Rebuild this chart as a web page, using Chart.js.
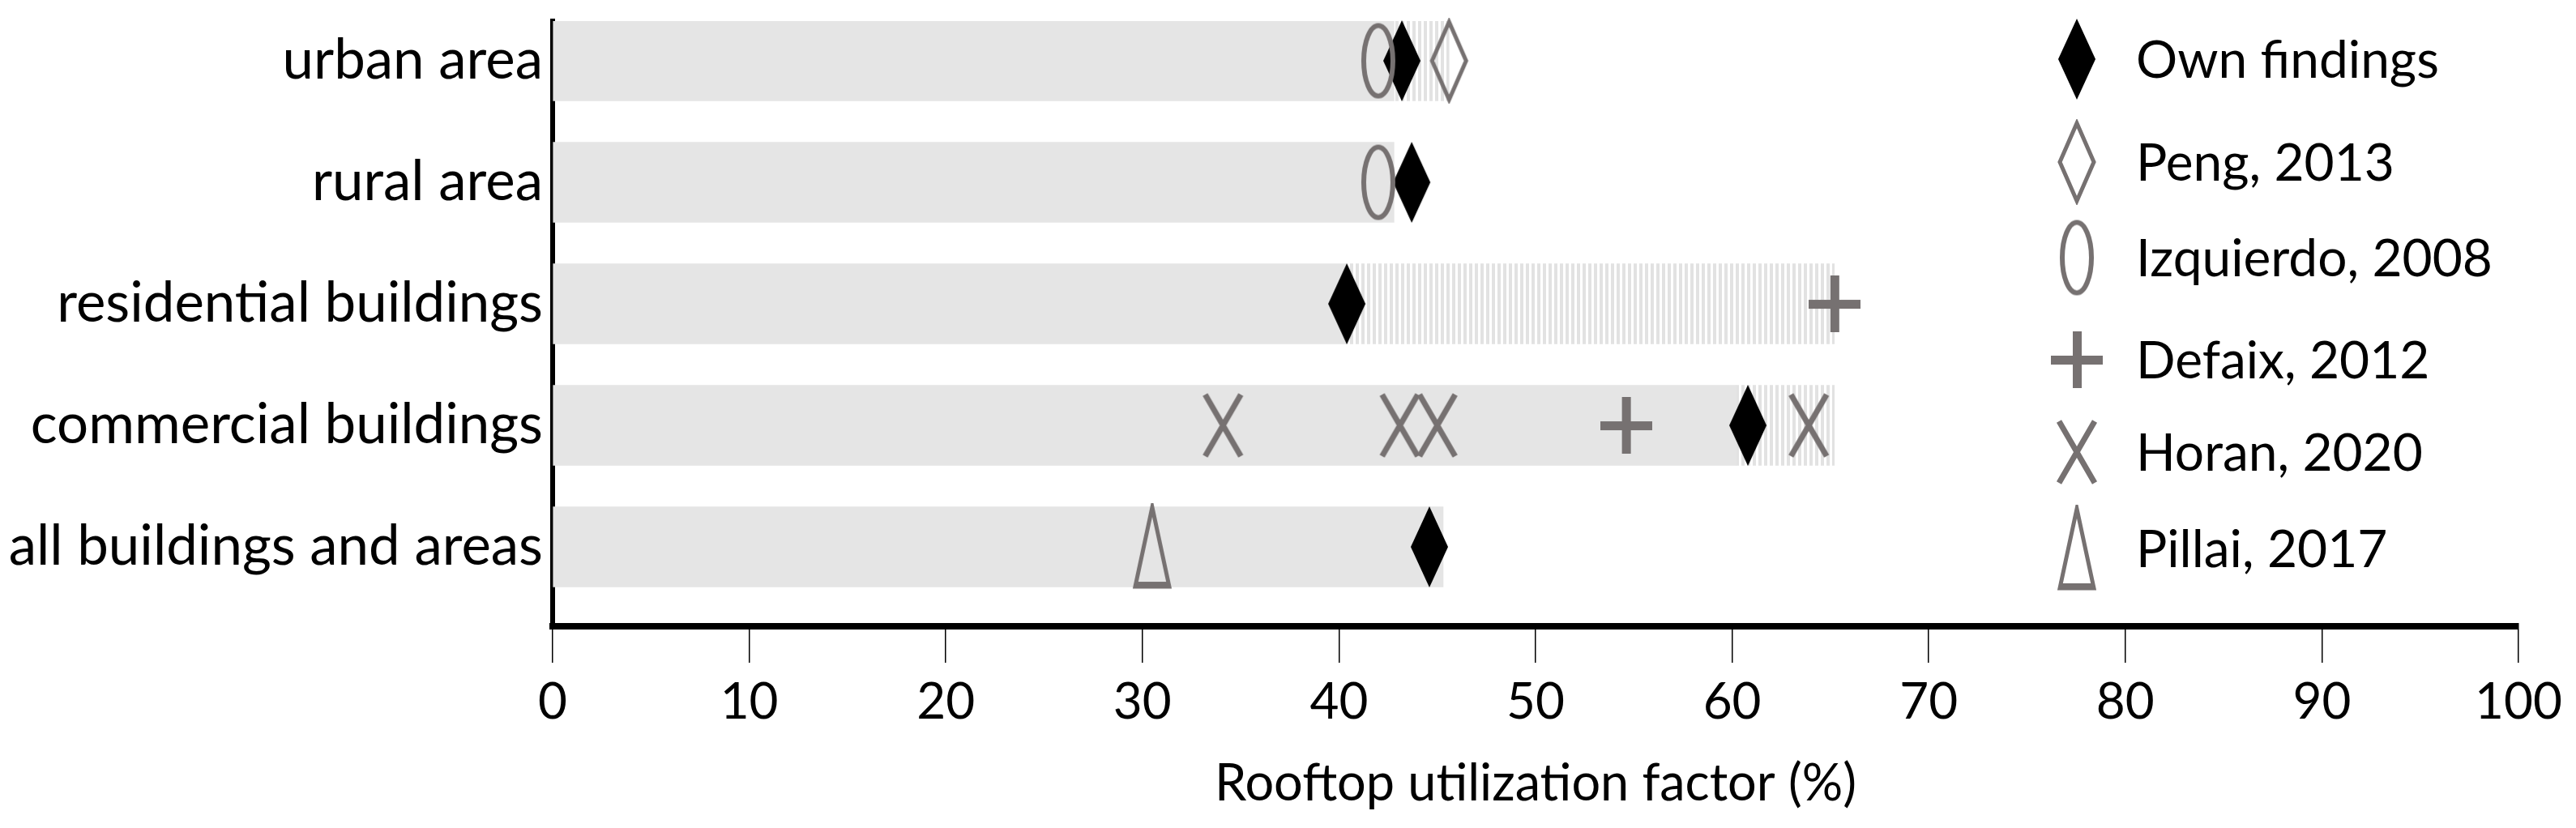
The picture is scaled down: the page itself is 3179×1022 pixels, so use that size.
<!DOCTYPE html>
<html>
<head>
<meta charset="utf-8">
<script src="https://cdn.jsdelivr.net/npm/chart.js@4"></script>
<style>
  html, body { margin: 0; padding: 0; background: #fff; }
  #wrap { width: 3179px; height: 1022px; }
</style>
</head>
<body>
<div id="wrap"><canvas id="rufChart"></canvas></div>
<script>
// categories (top to bottom)
var categories = ['urban area', 'rural area', 'residential buildings', 'commercial buildings', 'all buildings and areas'];

// grey bar up to the own estimate, hatched part up to the highest literature value
var barValues = [42.8, 42.8, 40.4, 60.2, 45.3];
var rangeRows = [0, 2, 3];
var rangeFrom = [42.8, 40.4, 60.2];
var rangeTo = [45.6, 65.2, 65.2];

// literature / own values: row index + value
var ownRows = [0, 1, 2, 3, 4];
var ownValues = [43.2, 43.7, 40.4, 60.8, 44.6];
var pengRows = [0];
var pengValues = [45.6];
var izqRows = [0, 1];
var izqValues = [42.0, 42.0];
var defaixRows = [2, 3];
var defaixValues = [65.2, 54.6];
var horanRows = [3, 3, 3, 3];
var horanValues = [34.1, 43.1, 45.0, 63.9];
var pillaiRows = [4];
var pillaiValues = [30.5];

var xTicks = [0, 10, 20, 30, 40, 50, 60, 70, 80, 90, 100];

var FONT = 'Lato, "Open Sans", sans-serif';
var GREY = '#767171';

function pts(rows, vals) {
  return vals.map(function (v, i) { return { x: v, y: rows[i] }; });
}

function marker(kind) {
  var c = document.createElement('canvas');
  var w, h;
  var sizes = {
    own: [48, 102], peng: [50, 106], izq: [46, 97],
    defaix: [64, 70], horan: [54, 80], pillai: [54, 108]
  };
  w = sizes[kind][0]; h = sizes[kind][1];
  c.width = w; c.height = h;
  var g = c.getContext('2d');
  var cx = w / 2, cy = h / 2;
  g.strokeStyle = GREY;
  g.fillStyle = GREY;
  if (kind === 'own') {
    g.fillStyle = '#000';
    g.beginPath();
    g.moveTo(cx, 1); g.lineTo(w - 1, cy); g.lineTo(cx, h - 1); g.lineTo(1, cy);
    g.closePath(); g.fill();
  } else if (kind === 'peng') {
    g.lineWidth = 5;
    g.beginPath();
    g.moveTo(cx, 5); g.lineTo(w - 4, cy); g.lineTo(cx, h - 5); g.lineTo(4, cy);
    g.closePath(); g.stroke();
  } else if (kind === 'izq') {
    g.lineWidth = 6;
    g.beginPath();
    g.ellipse(cx, cy, w / 2 - 5, h / 2 - 5, 0, 0, Math.PI * 2);
    g.stroke();
  } else if (kind === 'defaix') {
    g.fillRect(0, cy - 5, w, 11);
    g.fillRect(cx - 5, 0, 11, h);
  } else if (kind === 'horan') {
    g.lineWidth = 7;
    g.beginPath();
    g.moveTo(5, 2); g.lineTo(w - 5, h - 2);
    g.moveTo(w - 5, 2); g.lineTo(5, h - 2);
    g.stroke();
  } else if (kind === 'pillai') {
    g.lineWidth = 5;
    g.lineJoin = 'miter';
    g.beginPath();
    g.moveTo(cx, 5); g.lineTo(w - 6, h - 5); g.lineTo(6, h - 5);
    g.closePath(); g.stroke();
    g.fillRect(6, h - 11, w - 12, 8);
  }
  return c;
}

function hatch() {
  var p = document.createElement('canvas');
  p.width = 7; p.height = 4;
  var g = p.getContext('2d');
  g.fillStyle = '#ffffff';
  g.fillRect(0, 0, 7, 4);
  g.fillStyle = '#e2e2e2';
  g.fillRect(0, 0, 4, 4);
  return g.createPattern(p, 'repeat');
}

var markerSets = [
  { label: 'Own findings', kind: 'own', data: pts(ownRows, ownValues) },
  { label: 'Peng, 2013', kind: 'peng', data: pts(pengRows, pengValues) },
  { label: 'Izquierdo, 2008', kind: 'izq', data: pts(izqRows, izqValues) },
  { label: 'Defaix, 2012', kind: 'defaix', data: pts(defaixRows, defaixValues) },
  { label: 'Horan, 2020', kind: 'horan', data: pts(horanRows, horanValues) },
  { label: 'Pillai, 2017', kind: 'pillai', data: pts(pillaiRows, pillaiValues) }
];

var datasets = [];
markerSets.slice().reverse().forEach(function (m) {
  datasets.push({
    type: 'scatter',
    label: m.label,
    data: m.data,
    pointStyle: marker(m.kind),
    pointRadius: 20,
    clip: false,
    order: 1
  });
});

datasets.push({
  type: 'bar',
  label: 'range',
  data: rangeRows.map(function (r, i) { return { x: [rangeFrom[i], rangeTo[i]], y: r }; }),
  backgroundColor: hatch(),
  barThickness: 99,
  grouped: false,
  order: 3
});
datasets.push({
  type: 'bar',
  label: 'base',
  data: barValues.map(function (v, i) { return { x: v, y: i }; }),
  backgroundColor: '#e5e5e5',
  barThickness: 99,
  grouped: false,
  order: 2
});

// legend drawn by hand on the right, over the empty part of the plot
var legendY = [73, 200, 318, 444, 558, 677];
var sideLegend = {
  id: 'sideLegend',
  afterDraw: function (chart) {
    var ctx = chart.ctx;
    ctx.save();
    ctx.font = '64px ' + FONT;
    ctx.fillStyle = '#000';
    ctx.textBaseline = 'middle';
    ctx.textAlign = 'left';
    markerSets.forEach(function (m, i) {
      var y = legendY[i];
      var img = marker(m.kind);
      ctx.drawImage(img, 2563 - img.width / 2, y - img.height / 2);
      ctx.fillText(m.label, 2636, y + 2);
    });
    ctx.restore();
  }
};

Chart.defaults.color = '#000';
Chart.defaults.font.family = FONT;

new Chart(document.getElementById('rufChart'), {
  type: 'bar',
  data: { datasets: datasets },
  plugins: [sideLegend],
  options: {
    indexAxis: 'y',
    responsive: true,
    maintainAspectRatio: false,
    animation: false,
    layout: { padding: { top: 26, right: 71, left: 0, bottom: 0 } },
    plugins: {
      legend: { display: false },
      tooltip: { enabled: false }
    },
    scales: {
      x: {
        type: 'linear',
        min: 0,
        max: 100,
        afterBuildTicks: function (scale) {
          scale.ticks = xTicks.map(function (v) { return { value: v }; });
        },
        grid: {
          display: true,
          drawOnChartArea: false,
          drawTicks: true,
          tickLength: 45,
          color: '#000',
          lineWidth: 1.5
        },
        border: { display: true, color: '#000', width: 8 },
        ticks: { font: { size: 62 }, padding: 12, maxRotation: 0 },
        title: {
          display: true,
          text: 'Rooftop utilization factor (%)',
          font: { size: 63 },
          padding: { top: 0, bottom: 17 }
        },
        afterFit: function (scale) { scale.height = 249; }
      },
      y: {
        type: 'linear',
        reverse: true,
        offset: false,
        min: -0.3267,
        max: 4.653,
        grid: { display: false, drawTicks: false, offset: false },
        border: { display: true, color: '#000', width: 6 },
        ticks: {
          stepSize: 1,
          includeBounds: false,
          padding: 12,
          font: { size: 69 },
          callback: function (v) {
            return Number.isInteger(v) && categories[v] ? categories[v] : '';
          }
        },
        afterFit: function (scale) {
          scale.width = 682;
          scale.paddingTop = 0;
          scale.paddingBottom = 0;
        }
      }
    }
  }
});
</script>
</body>
</html>
